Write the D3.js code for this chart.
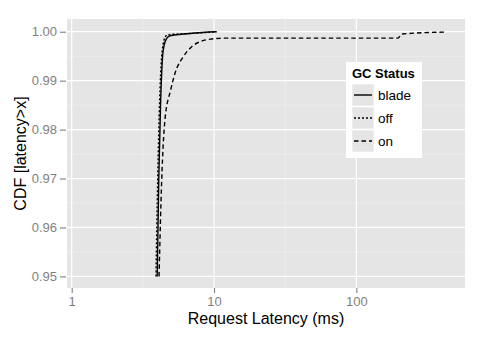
<!DOCTYPE html>
<html>
<head>
<meta charset="utf-8">
<script src="https://cdn.jsdelivr.net/npm/d3@7"></script>
<style>
  body { margin: 0; background: #fff; }
  text { font-family: "Liberation Sans", Arial, sans-serif; }
</style>
</head>
<body>
<div id="chart"></div>
<script>
// latency (ms) and CDF values
var bladeX = [3.99, 4.09, 4.22, 4.40, 4.65, 4.91, 10.45];
var bladeY = [0.95, 0.9697, 0.9861, 0.99627, 0.99865, 0.99918, 1.0];
var offX = [3.91, 4.02, 4.15, 4.33, 4.58, 4.77, 6.78, 10.4];
var offY = [0.95, 0.9697, 0.9861, 0.99627, 0.9991, 0.9994, 0.99963, 1.0];
var onX = [4.11, 4.29, 4.52, 4.96, 5.32, 6.09, 6.97, 7.97, 9.63, 11.95, 196, 209, 432];
var onY = [0.95, 0.9697, 0.982, 0.9881, 0.99151, 0.9949, 0.99694, 0.99796, 0.99851, 0.9987, 0.9987, 0.99953, 0.99994];

var xTicks = [1, 10, 100];
var yTicks = [0.95, 0.96, 0.97, 0.98, 0.99, 1.00];
var seriesNames = ["blade", "off", "on"];

var svgWidth = 485;
var svgHeight = 339;
var margin = { top: 19, right: 20, bottom: 51, left: 67 };
var width = svgWidth - margin.left - margin.right;
var height = svgHeight - margin.top - margin.bottom;

var dashes = { blade: null, off: "2,2", on: "4.5,3" };

var svg = d3.select("#chart")
    .append("svg")
    .attr("width", svgWidth)
    .attr("height", svgHeight);

var chartGroup = svg.append("g")
    .attr("transform", `translate(${margin.left}, ${margin.top})`);

var xScale = d3.scaleLog()
    .domain([0.927, 580])
    .range([0, width]);

var yScale = d3.scaleLinear()
    .domain([0.94763, 1.0026])
    .range([height, 0]);

// panel background
chartGroup.append("rect")
    .attr("width", width)
    .attr("height", height)
    .attr("fill", "#e5e5e5");

// minor grid
var xMinor = [Math.sqrt(10), Math.sqrt(1000)];
chartGroup.selectAll(".xminor")
    .data(xMinor)
    .enter()
    .append("line")
    .attr("x1", d => xScale(d))
    .attr("x2", d => xScale(d))
    .attr("y1", 0)
    .attr("y2", height)
    .attr("stroke", "#f2f2f2")
    .attr("stroke-width", 0.6);

var yMinor = [0.955, 0.965, 0.975, 0.985, 0.995];
chartGroup.selectAll(".yminor")
    .data(yMinor)
    .enter()
    .append("line")
    .attr("x1", 0)
    .attr("x2", width)
    .attr("y1", d => yScale(d))
    .attr("y2", d => yScale(d))
    .attr("stroke", "#f2f2f2")
    .attr("stroke-width", 0.6);

// major grid
chartGroup.selectAll(".xmajor")
    .data(xTicks)
    .enter()
    .append("line")
    .attr("x1", d => xScale(d))
    .attr("x2", d => xScale(d))
    .attr("y1", 0)
    .attr("y2", height)
    .attr("stroke", "#fff")
    .attr("stroke-width", 1.2);

chartGroup.selectAll(".ymajor")
    .data(yTicks)
    .enter()
    .append("line")
    .attr("x1", 0)
    .attr("x2", width)
    .attr("y1", d => yScale(d))
    .attr("y2", d => yScale(d))
    .attr("stroke", "#fff")
    .attr("stroke-width", 1.2);

// axes
var bottomAxis = d3.axisBottom(xScale)
    .tickValues(xTicks)
    .tickFormat(d3.format("d"))
    .tickSize(5)
    .tickPadding(4);
var leftAxis = d3.axisLeft(yScale)
    .tickValues(yTicks)
    .tickFormat(d3.format(".2f"))
    .tickSize(6)
    .tickPadding(3);

var xAxis = chartGroup.append("g")
    .attr("transform", `translate(0, ${height})`)
    .call(bottomAxis);
var yAxis = chartGroup.append("g")
    .attr("transform", "translate(-1, 0)")
    .call(leftAxis);

[xAxis, yAxis].forEach(function(ax) {
    ax.select(".domain").remove();
    ax.selectAll("line").attr("stroke", "#7f7f7f").attr("stroke-width", 1.1);
    ax.selectAll("text")
        .attr("fill", "#7f7f7f")
        .style("font-size", "13px")
        .style("font-family", "Liberation Sans, Arial, sans-serif");
});

// curves
var series = [
    { name: "blade", x: bladeX, y: bladeY },
    { name: "off", x: offX, y: offY },
    { name: "on", x: onX, y: onY }
];

var line = d3.line()
    .x(d => xScale(d[0]))
    .y(d => yScale(d[1]))
    .curve(d3.curveMonotoneX);

chartGroup.selectAll(".curve")
    .data(series)
    .enter()
    .append("path")
    .attr("d", s => line(d3.zip(s.x, s.y)))
    .attr("fill", "none")
    .attr("stroke", "#000")
    .attr("stroke-width", 1.4)
    .attr("stroke-dasharray", s => dashes[s.name]);

// axis titles
svg.append("text")
    .attr("x", margin.left + width / 2)
    .attr("y", 324)
    .attr("text-anchor", "middle")
    .style("font-size", "16px")
    .text("Request Latency (ms)");

svg.append("text")
    .attr("transform", `translate(26, ${margin.top + height / 2}) rotate(-90)`)
    .attr("text-anchor", "middle")
    .style("font-size", "16px")
    .text("CDF [latency>x]");

// legend
var legend = svg.append("g")
    .attr("transform", "translate(346, 62)");

legend.append("rect")
    .attr("width", 76)
    .attr("height", 96)
    .attr("fill", "#fff");

legend.append("text")
    .attr("x", 6)
    .attr("y", 16)
    .style("font-size", "13px")
    .style("font-weight", "bold")
    .text("GC Status");

var keys = legend.selectAll(".key")
    .data(seriesNames)
    .enter()
    .append("g")
    .attr("transform", (d, i) => `translate(6, ${22 + i * 23})`);

keys.append("rect")
    .attr("width", 22)
    .attr("height", 22)
    .attr("fill", "#e5e5e5")
    .attr("stroke", "#fff")
    .attr("stroke-width", 0.6);

keys.append("line")
    .attr("x1", 2)
    .attr("x2", 20)
    .attr("y1", 11)
    .attr("y2", 11)
    .attr("stroke", "#000")
    .attr("stroke-width", 1.4)
    .attr("stroke-dasharray", d => dashes[d]);

keys.append("text")
    .attr("x", 26)
    .attr("y", 16)
    .style("font-size", "13.5px")
    .text(d => d);
</script>
</body>
</html>
